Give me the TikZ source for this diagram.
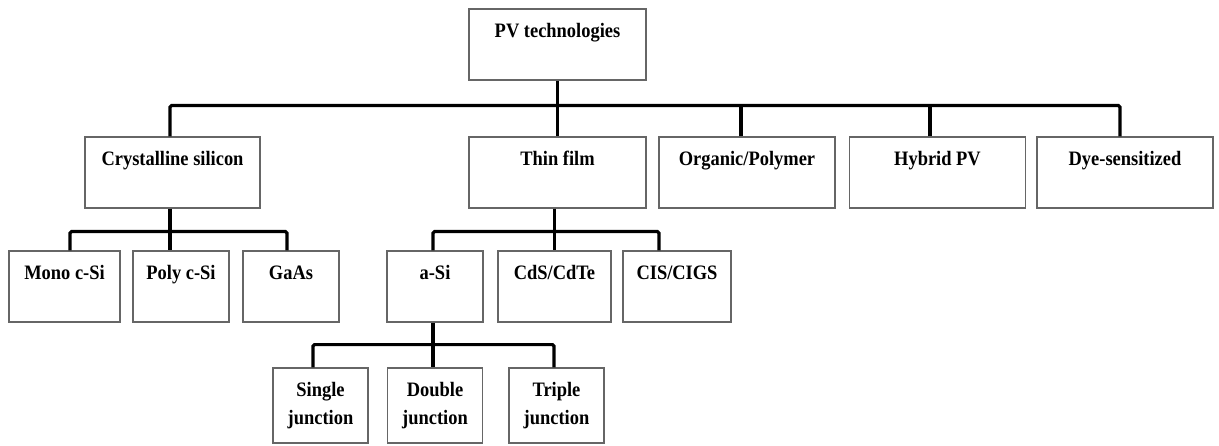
\documentclass[tikz,border=0pt]{standalone}
\usepackage{fontspec}
\setmainfont{Liberation Serif}[FakeStretch=0.9]
\tikzset{
    box/.style={draw=black!60, line width=1.2pt, inner sep=0pt, text height=29pt, text depth=42pt,
        minimum width=#1, font=\fontsize{20.5}{27}\selectfont\bfseries},
    box/.default=177pt,
    jbox/.style={draw=black!60, line width=1.2pt, inner sep=0pt, minimum width=95pt, minimum height=75pt,
        align=center, font=\fontsize{20.5}{28}\selectfont\bfseries},
    link/.style={line width=3.2pt, rounded corners=1.5pt}
}
\begin{document}
\begin{tikzpicture}[x=1pt,y=1pt]
                \useasboundingbox (0,0) rectangle (1219,445);
                \node[box] (pv) at (557.5,400.5) {PV technologies};
                \node[box=175pt] (crys) at (172.5,272.5) {Crystalline silicon};
                \node[box] (thin) at (557.5,272.5) {Thin film};
                \node[box=176pt] (org) at (747,272.5) {Organic/Polymer};
                \node[box=176pt] (hyb) at (937.5,272.5) {Hybrid PV};
                \node[box=176pt] (dye) at (1125,272.5) {Dye-sensitized};
                \node[box=111pt] (mono) at (64.5,158.5) {Mono c-Si};
                \node[box=96pt] (poly) at (181,158.5) {Poly c-Si};
                \node[box=96pt] (gaas) at (291,158.5) {GaAs};
                \node[box=96pt] (asi) at (435,158.5) {a-Si};
                \node[box=113pt] (cds) at (554.5,158.5) {CdS/CdTe};
                \node[box=108pt] (cis) at (677,158.5) {CIS/CIGS};
                \node[jbox] (single) at (320.5,39.5) {Single\\junction};
                \node[jbox] (double) at (435,39.5) {Double\\junction};
                \node[jbox] (triple) at (556.5,39.5) {Triple\\junction};

                \path (pv.south) ++(0,-25) coordinate (b0);
                \path (crys.south) ++(0,-23) coordinate (b1);
                \path (thin.south) ++(0,-23) coordinate (b2);
                \path (asi.south) ++(0,-22) coordinate (b3);

                \draw[link] (pv.south) -- (thin.north -| pv.south);
                \draw[link] ([xshift=-2.5pt]crys.north) |- (b0) -| ([xshift=-5pt]dye.north);
                \draw[link] ([xshift=-6pt]org.north) -- ([xshift=-6pt]org.north |- b0);
                \draw[link] ([xshift=-7.5pt]hyb.north) -- ([xshift=-7.5pt]hyb.north |- b0);

                \draw[link] ([xshift=-2.5pt]crys.south) -- ([xshift=-2.5pt]poly.north -| crys.south);
                \draw[link] ([xshift=5.5pt]mono.north) |- (b1) -| ([xshift=-4pt]gaas.north);

                \draw[link] ([xshift=-3pt]thin.south) -- ([xshift=-3pt]cds.north -| thin.south);
                \draw[link] ([xshift=-2pt]asi.north) |- (b2) -| ([xshift=-18pt]cis.north);

                \draw[link] ([xshift=-2pt]asi.south) -- ([xshift=-2pt]double.north -| asi.south);
                \draw[link] ([xshift=-7.5pt]single.north) |- (b3) -| ([xshift=-2.5pt]triple.north);
\end{tikzpicture}
\end{document}
